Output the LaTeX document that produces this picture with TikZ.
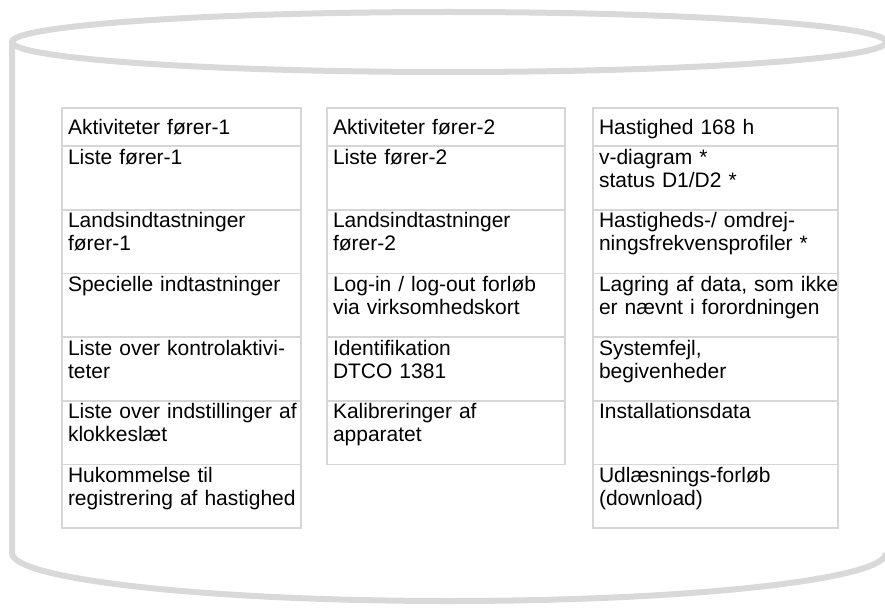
\documentclass[tikz,border=0pt]{standalone}
\usepackage{fontspec}
\setmainfont{Liberation Sans}
\usepackage{xcolor}
\usepackage{tikz}
\usetikzlibrary{positioning}
\definecolor{cylgray}{RGB}{217,217,217}
\definecolor{linegray}{RGB}{214,214,214}

\begin{document}
\begin{tikzpicture}[x=1pt, y=-1pt,
  cyl/.style={draw=cylgray, line width=6pt},
  cell/.style={draw=linegray, line width=1.8pt, anchor=north west, outer sep=0pt,
    inner xsep=6pt, inner ysep=3pt, align=left, text=black,
    font=\fontsize{21pt}{23pt}\selectfont,
    text height=15pt, text depth=42.7pt, minimum height=63.7pt},
  head/.style={cell, text height=23pt, text depth=9pt, minimum height=38pt},
  colA/.style={text width=227pt},
  colB/.style={text width=226pt},
  colC/.style={text width=233pt}]
  \useasboundingbox (0,0) rectangle (885,607);
  \clip (0,0) rectangle (885,607);
  % database cylinder
  \draw[cyl] (449,42) ellipse [x radius=437pt, y radius=30pt];
  \draw[cyl] (12,42) -- (12,553)
    arc [start angle=180, end angle=360, x radius=437pt, y radius=48pt];
  % column 1: driver 1
  \node[head, colA] (a1) at (62,108) {Aktiviteter fører-1};
  \node[cell, colA] (a2) at (a1.south west) {Liste fører-1};
  \node[cell, colA] (a3) at (a2.south west) {Landsindtastninger\\fører-1};
  \node[cell, colA] (a4) at (a3.south west) {Specielle indtastninger};
  \node[cell, colA] (a5) at (a4.south west) {Liste over kontrolaktivi-\\teter};
  \node[cell, colA] (a6) at (a5.south west) {\mbox{Liste over indstillinger af}\\klokkeslæt};
  \node[cell, colA] (a7) at (a6.south west) {Hukommelse til\\\mbox{registrering af hastighed}};
  % column 2: driver 2
  \node[head, colB] (b1) at (327,108) {Aktiviteter fører-2};
  \node[cell, colB] (b2) at (b1.south west) {Liste fører-2};
  \node[cell, colB] (b3) at (b2.south west) {Landsindtastninger\\fører-2};
  \node[cell, colB] (b4) at (b3.south west) {Log-in / log-out forløb\\via virksomhedskort};
  \node[cell, colB] (b5) at (b4.south west) {Identifikation\\DTCO 1381};
  \node[cell, colB] (b6) at (b5.south west) {Kalibreringer af\\apparatet};
  % column 3: vehicle data
  \node[head, colC] (c1) at (593,108) {Hastighed 168 h};
  \node[cell, colC] (c2) at (c1.south west) {v-diagram *\\status D1/D2 *};
  \node[cell, colC] (c3) at (c2.south west) {Hastigheds-/ omdrej-\\ningsfrekvensprofiler *};
  \node[cell, colC] (c4) at (c3.south west) {\mbox{Lagring af data, som ikke}\\er nævnt i forordningen};
  \node[cell, colC] (c5) at (c4.south west) {Systemfejl,\\begivenheder};
  \node[cell, colC] (c6) at (c5.south west) {Installationsdata};
  \node[cell, colC] (c7) at (c6.south west) {Udlæsnings-forløb\\(download)};
\end{tikzpicture}
\end{document}
